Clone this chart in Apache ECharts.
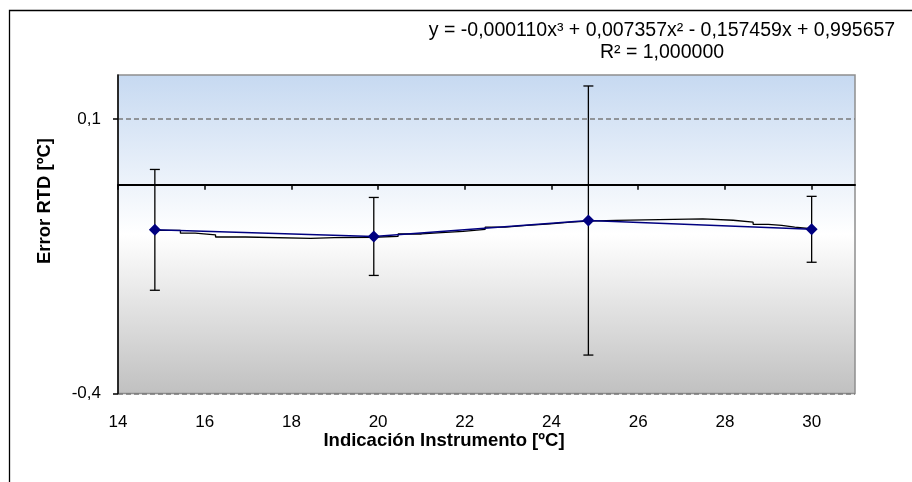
<!DOCTYPE html>
<html>
<head>
<meta charset="utf-8">
<script src="https://cdn.jsdelivr.net/npm/echarts@6/dist/echarts.min.js"></script>
<style>
  html, body { margin: 0; padding: 0; background: #ffffff; }
  #chart { width: 912px; height: 482px; }
</style>
</head>
<body>
<div id="chart"></div>
<script>
// Measured points: instrument indication vs. RTD error, with expanded uncertainty
const indication = [14.85, 19.9, 24.85, 30.0];
const rtdError = [-0.102, -0.114, -0.085, -0.101];
const uncertainty = [0.11, 0.071, 0.245, 0.06];

// Polynomial trendline as rendered (stepped polyline), x and y
const trendX = [14.84, 15.44, 15.78, 16.25, 16.94, 18.45, 18.99, 19.88, 20.46, 21.0, 21.46, 21.96, 22.47, 22.93, 23.43, 23.97, 24.44, 24.84, 25.48, 27.49, 28.19, 28.65, 29.0, 29.31, 29.61, 29.99];
const trendY = [-0.103, -0.108, -0.111, -0.115, -0.1175, -0.116, -0.1155, -0.114, -0.1095, -0.107, -0.1046, -0.101, -0.097, -0.094, -0.091, -0.088, -0.086, -0.0846, -0.082, -0.0845, -0.088, -0.092, -0.094, -0.097, -0.100, -0.101];

// Axis tick values
const xTicks = [14, 16, 18, 20, 22, 24, 26, 28, 30];
const yTicks = [-0.4, 0.1];

const equationLine = 'y = -0,000110x\u00B3 + 0,007357x\u00B2 - 0,157459x + 0,995657';
const r2Line = 'R\u00B2 = 1,000000';

const FONT = '"Liberation Sans", Arial, sans-serif';

const chart = echarts.init(document.getElementById('chart'), null, { renderer: 'canvas' });

const points = indication.map((x, i) => [x, rtdError[i]]);
const bars = indication.map((x, i) => [x, rtdError[i] - uncertainty[i], rtdError[i] + uncertainty[i]]);
const trend = trendX.map((x, i) => [x, trendY[i]]);

const fmt = v => String(Math.round(v * 10) / 10).replace('.', ',');

chart.setOption({
  animation: false,
  backgroundColor: '#ffffff',
  textStyle: { fontFamily: FONT },
  grid: {
    left: 118, top: 75, right: 57, bottom: 88.5,
    show: true,
    borderColor: '#8f8f8f',
    borderWidth: 1.5,
    backgroundColor: {
      type: 'linear', x: 0, y: 0, x2: 0, y2: 1,
      colorStops: [
        { offset: 0, color: '#c6d9f1' },
        { offset: 0.5, color: '#ffffff' },
        { offset: 1, color: '#c0c0c0' }
      ]
    }
  },
  xAxis: [
    {
      // axis line crossing the plot at -0,02
      type: 'value', min: 14, max: 31, interval: 2,
      position: 'bottom',
      axisLine: { show: true, onZero: true, onZeroAxisIndex: 1, lineStyle: { color: '#000', width: 2 } },
      axisTick: { show: true, length: 5, customValues: xTicks, lineStyle: { color: '#000', width: 1.5 } },
      axisLabel: { show: false },
      splitLine: { show: false }
    },
    {
      // tick labels along the bottom edge
      type: 'value', min: 14, max: 31, interval: 2,
      position: 'bottom',
      axisLine: { show: false, onZero: false },
      axisTick: { show: false },
      axisLabel: {
        show: true, margin: 20, customValues: xTicks,
        fontSize: 17, color: '#000', fontFamily: FONT,
        formatter: v => String(v)
      },
      splitLine: { show: false }
    }
  ],
  yAxis: [
    {
      type: 'value', min: -0.4, max: 0.18, interval: 0.5,
      axisLine: { show: true, lineStyle: { color: '#000', width: 1.5 } },
      axisTick: { show: true, length: 5, customValues: yTicks, lineStyle: { color: '#000', width: 1.5 } },
      axisLabel: {
        show: true, margin: 17, customValues: yTicks,
        fontSize: 17, color: '#000', fontFamily: FONT,
        formatter: fmt
      },
      splitLine: { show: true, lineStyle: { color: '#7a7a7a', type: [5, 3], width: 1.5 } }
    },
    {
      // helper scale shifted by 0,02 so the crossing axis sits at -0,02
      type: 'value', min: -0.38, max: 0.2, show: false,
      splitLine: { show: false }
    }
  ],
  graphic: [
    {
      type: 'rect', silent: true, z: 100,
      shape: { x: 9.5, y: 10.5, width: 1000, height: 600 },
      style: { fill: 'none', stroke: '#000', lineWidth: 1.3 }
    },
    {
      type: 'text', z: 100, x: 662, y: 31,
      style: { text: equationLine, font: '19.5px ' + FONT, fill: '#000', align: 'center', verticalAlign: 'middle' }
    },
    {
      type: 'text', z: 100, x: 662, y: 53,
      style: { text: r2Line, font: '19.5px ' + FONT, fill: '#000', align: 'center', verticalAlign: 'middle' }
    },
    {
      type: 'text', z: 100, x: 444, y: 441,
      style: { text: 'Indicación Instrumento [ºC]', font: 'bold 18.5px ' + FONT, fill: '#000', align: 'center', verticalAlign: 'middle' }
    },
    {
      type: 'text', z: 100, x: 45, y: 201, rotation: Math.PI / 2,
      style: { text: 'Error RTD [ºC]', font: 'bold 18.5px ' + FONT, fill: '#000', align: 'center', verticalAlign: 'middle' }
    }
  ],
  series: [
    {
      name: 'Incertidumbre',
      type: 'custom',
      xAxisIndex: 0, yAxisIndex: 0,
      z: 3,
      renderItem: (params, api) => {
        const x = api.value(0);
        const lo = api.coord([x, api.value(1)]);
        const hi = api.coord([x, api.value(2)]);
        const cap = 5;
        const style = { stroke: '#000', lineWidth: 1.3 };
        return {
          type: 'group',
          children: [
            { type: 'line', shape: { x1: lo[0], y1: lo[1], x2: hi[0], y2: hi[1] }, style },
            { type: 'line', shape: { x1: lo[0] - cap, y1: lo[1], x2: lo[0] + cap, y2: lo[1] }, style },
            { type: 'line', shape: { x1: hi[0] - cap, y1: hi[1], x2: hi[0] + cap, y2: hi[1] }, style }
          ]
        };
      },
      encode: { x: 0, y: [1, 2] },
      data: bars
    },
    {
      name: 'Tendencia',
      type: 'line',
      xAxisIndex: 0, yAxisIndex: 0,
      z: 4,
      step: 'end',
      showSymbol: false,
      symbol: 'none',
      lineStyle: { color: '#000', width: 1.3 },
      data: trend
    },
    {
      name: 'Error RTD',
      type: 'line',
      xAxisIndex: 0, yAxisIndex: 0,
      z: 5,
      symbol: 'diamond',
      symbolSize: 12,
      itemStyle: { color: '#000080' },
      lineStyle: { color: '#000080', width: 1.5 },
      data: points
    }
  ]
});
</script>
</body>
</html>
